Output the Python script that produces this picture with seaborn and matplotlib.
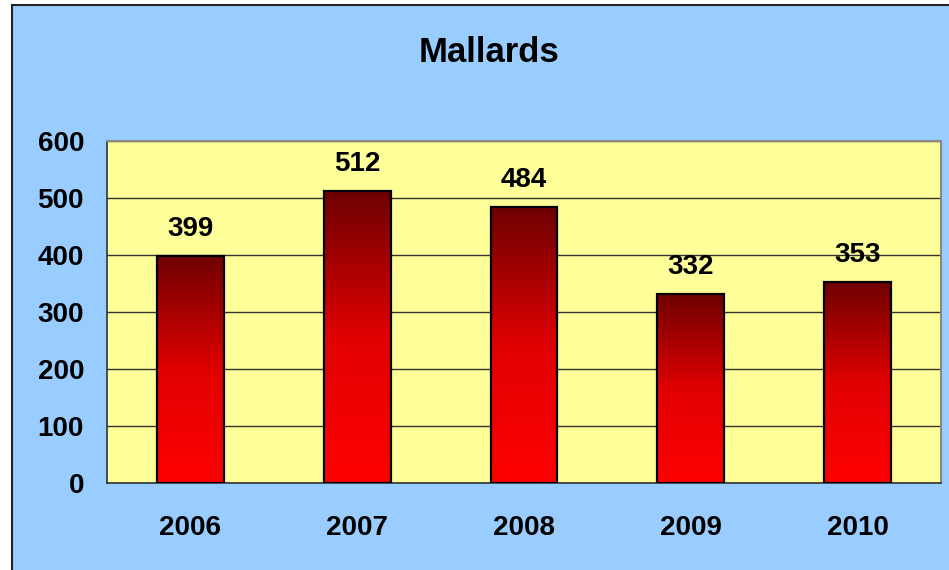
import numpy as np
import pandas as pd
import matplotlib
matplotlib.use("Agg")
import matplotlib.pyplot as plt
import seaborn as sns
from matplotlib.patches import Rectangle
from matplotlib.colors import LinearSegmentedColormap

years = ["2006", "2007", "2008", "2009", "2010"]
counts = [399, 512, 484, 332, 353]
title = "Mallards"
yticks = [0, 100, 200, 300, 400, 500, 600]

sns.set_theme(style="white")
plt.rcParams['font.family'] = ['Liberation Sans', 'DejaVu Sans']

W, H = 949, 570
fig = plt.figure(figsize=(W / 100, H / 100), dpi=100)
fig.patch.set_facecolor("white")
# chart area background with border (right/bottom beyond canvas)
bg = Rectangle((12 / W, -0.05), 1.1, (H - 5) / H + 0.05, transform=fig.transFigure,
               facecolor="#99CCFF", edgecolor="#222222", linewidth=1.5, zorder=-10)
fig.patches.append(bg)

ax = fig.add_axes([107 / W, 1 - 483 / H, (941 - 107) / W, (483 - 141) / H])
ax.set_zorder(1)
ax.set_facecolor("#FFFF99")

df = pd.DataFrame({"year": years, "count": counts})
sns.barplot(data=df, x="year", y="count", ax=ax, width=0.4, color="red",
            edgecolor="black", linewidth=1.6, zorder=3)

ax.set_xlim(-0.5, 4.5)
ax.set_ylim(0, 600)
ax.set_yticks(yticks)
ax.set_xlabel("")
ax.set_ylabel("")

# gradient fill
cmap = LinearSegmentedColormap.from_list("grad", ["#FF0000", "#E00000", "#6E0000"])
grad = np.linspace(0, 1, 256).reshape(-1, 1)
for p in ax.patches:
    x0, y0 = p.get_x(), p.get_y()
    w, h = p.get_width(), p.get_height()
    p.set_facecolor("none")
    im = ax.imshow(grad, extent=[x0, x0 + w, y0, y0 + h], origin="lower",
                   cmap=cmap, aspect="auto", zorder=2.5)
    im.set_clip_path(p)

ax.set_xlim(-0.5, 4.5)
ax.set_ylim(0, 600)

# grid
ax.yaxis.grid(True, color="#333333", linewidth=1.0)
ax.set_axisbelow(True)

for s in ["top", "right"]:
    ax.spines[s].set_color("#888888")
    ax.spines[s].set_linewidth(1.5)
for s in ["left", "bottom"]:
    ax.spines[s].set_color("#333333")
    ax.spines[s].set_linewidth(1.2)

ax.tick_params(axis="y", which="major", direction="out", length=6.5, width=1,
               color="#333333", pad=10, labelsize=20)
ax.tick_params(axis="x", which="major", length=0, pad=23, labelsize=20)
ax.set_xticks(np.arange(-0.5, 5.0, 1.0), minor=True)
ax.tick_params(axis="x", which="minor", direction="out", length=7, width=1, color="#333333")
for lab in ax.get_xticklabels() + ax.get_yticklabels():
    lab.set_fontweight("bold")
    lab.set_color("black")

for i, v in enumerate(counts):
    ax.annotate(str(v), (i, v), xytext=(0, 10), textcoords="offset points",
                ha="center", va="bottom", fontsize=20, fontweight="bold", color="black",
                zorder=5)

fig.text(489 / W, 1 - 52 / H, title, ha="center", va="center", fontsize=25,
         fontweight="bold", color="black")

fig.savefig("out.png", dpi=100)
